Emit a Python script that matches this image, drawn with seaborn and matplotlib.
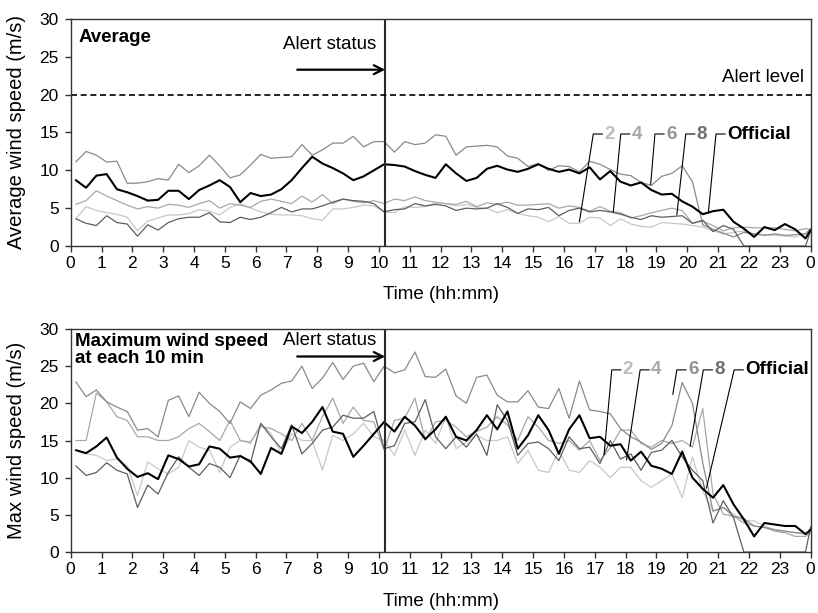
import numpy as np
import pandas as pd
import matplotlib
matplotlib.use("Agg")
import matplotlib.pyplot as plt
import seaborn as sns

# ---------------- data (20-min samples, hours 0..24) ----------------
hour_ticks = list(range(0, 25))
hour_labels = [str(h) for h in range(24)] + ["0"]

series_names = ["2", "4", "6", "8", "Official"]

avg_2 = [3.6, 5.2, 4.7, 4.4, 4.2, 3.8, 2.0, 3.3, 3.7, 4.1, 4.1, 4.3, 4.8, 4.6, 4.1,
         5.1, 5.6, 5.0, 4.5, 4.2, 4.1, 4.1, 4.0, 3.6, 3.4, 4.9, 4.9, 5.1, 5.4, 5.3,
         4.5, 4.4, 5.2, 5.1, 5.2, 5.7, 5.6, 5.3, 5.5, 5.1, 5.0, 4.4, 4.8, 4.3, 4.0,
         3.8, 3.2, 3.9, 3.0, 3.0, 3.8, 3.7, 2.7, 3.6, 2.9, 2.6, 2.5, 3.1, 3.0, 2.9,
         2.7, 2.5, 2.0, 1.6, 1.8, 2.0, 1.6, 1.5, 1.4, 1.3, 1.2, 1.6, 1.8]
avg_4 = [5.5, 6.0, 7.3, 6.6, 6.0, 5.4, 4.9, 5.2, 5.0, 5.5, 5.4, 5.1, 5.6, 6.0, 5.0,
         5.6, 5.4, 5.1, 5.9, 6.2, 5.9, 5.6, 6.6, 5.8, 6.8, 5.6, 6.2, 5.9, 5.7, 6.0,
         5.6, 6.2, 6.0, 6.5, 6.0, 5.8, 5.6, 5.5, 5.9, 5.2, 5.7, 5.5, 5.8, 5.4, 5.4,
         5.5, 5.6, 5.0, 5.3, 5.1, 4.6, 5.2, 4.6, 4.4, 3.7, 4.0, 4.4, 4.7, 5.0, 4.7,
         3.0, 3.3, 2.7, 2.0, 2.4, 2.5, 2.4, 2.4, 2.4, 2.2, 2.0, 2.3, 2.2]
avg_6 = [11.1, 12.5, 12.0, 11.1, 11.2, 8.3, 8.3, 8.5, 8.9, 8.7, 10.8, 9.7, 10.6, 12.0, 10.6,
         9.0, 9.4, 10.7, 12.1, 11.6, 11.7, 11.8, 13.4, 12.0, 12.7, 13.6, 13.6, 14.5, 13.1, 13.8,
         13.8, 12.4, 13.8, 13.4, 13.6, 14.7, 14.5, 12.0, 13.1, 13.2, 13.3, 13.1, 11.9, 11.6, 10.5,
         10.9, 10.0, 10.6, 10.5, 9.8, 11.2, 10.8, 10.1, 9.5, 9.3, 8.4, 8.0, 9.2, 9.6, 10.6,
         8.5, 2.8, 2.2, 1.7, 1.2, 1.8, 1.6, 1.4, 1.6, 1.4, 1.5, 1.6, 2.3]
avg_8 = [3.6, 3.0, 2.7, 4.0, 3.1, 2.9, 1.3, 2.8, 2.1, 3.1, 3.6, 3.8, 3.8, 4.4, 3.2,
         3.1, 3.8, 3.5, 3.8, 4.4, 5.1, 4.5, 4.9, 4.9, 5.3, 5.8, 6.2, 6.0, 5.9, 5.6,
         4.5, 4.8, 4.9, 5.6, 5.3, 5.5, 5.3, 4.7, 5.0, 4.9, 5.0, 5.6, 5.1, 4.3, 4.9,
         4.8, 5.1, 4.0, 4.7, 5.0, 4.5, 4.7, 4.5, 4.2, 3.8, 3.5, 4.0, 3.8, 3.9, 4.0,
         3.0, 3.4, 1.9, 2.7, 2.2, 0.0, 0.0, 0.0, 0.0, 0.0, 0.0, 0.0, 2.0]
avg_off = [8.7, 7.7, 9.3, 9.5, 7.5, 7.1, 6.6, 6.0, 6.1, 7.3, 7.3, 6.2, 7.4, 8.0, 8.7,
           7.8, 5.8, 7.0, 6.6, 6.8, 7.5, 8.7, 10.3, 11.8, 10.9, 10.3, 9.6, 8.7, 9.2, 10.0,
           10.8, 10.7, 10.5, 9.9, 9.4, 9.0, 10.8, 9.6, 8.6, 9.0, 10.2, 10.6, 10.1, 9.8, 10.2,
           10.8, 10.2, 9.8, 10.1, 9.6, 10.4, 8.8, 9.9, 8.5, 8.0, 8.4, 7.4, 6.8, 6.9, 5.9,
           5.2, 4.2, 4.6, 4.8, 3.2, 2.3, 1.2, 2.5, 2.1, 2.9, 2.2, 1.0, 2.1]

max_2 = [13.7, 13.2, 13.0, 12.3, 12.5, 11.6, 7.6, 12.1, 11.2, 10.5, 11.4, 15.0, 14.1, 13.7, 10.7,
         14.1, 15.0, 14.6, 17.3, 15.9, 13.2, 15.9, 15.0, 15.0, 11.0, 15.7, 15.0, 15.9, 17.3, 15.5,
         15.0, 13.0, 16.4, 13.0, 16.4, 14.6, 18.2, 13.9, 14.8, 15.7, 15.0, 15.0, 15.5, 11.9, 13.7,
         11.0, 10.7, 13.7, 11.0, 10.7, 12.3, 11.4, 10.0, 11.4, 11.4, 9.6, 8.7, 9.6, 10.5, 7.3,
         12.8, 8.2, 5.5, 6.0, 5.1, 4.2, 4.2, 3.5, 3.0, 2.8, 2.6, 2.4, 2.6]
max_4 = [15.0, 15.0, 21.4, 20.2, 18.2, 17.7, 15.5, 15.5, 15.0, 15.0, 15.5, 16.6, 17.3, 16.2, 15.0,
         17.7, 15.0, 14.8, 16.9, 16.6, 15.9, 15.0, 17.3, 15.0, 18.2, 20.7, 17.3, 19.5, 17.7, 17.5,
         13.7, 17.7, 18.0, 20.7, 15.0, 17.5, 17.7, 16.8, 15.5, 16.2, 16.8, 18.2, 17.1, 15.0, 18.2,
         16.8, 15.0, 14.6, 15.0, 13.7, 15.0, 12.3, 14.0, 16.4, 16.4, 14.6, 14.1, 15.0, 14.6, 15.0,
         14.1, 19.3, 7.8, 5.1, 4.8, 3.9, 3.5, 3.3, 2.8, 2.6, 2.1, 2.1, 2.6]
max_6 = [22.9, 20.9, 21.8, 20.2, 19.5, 18.9, 16.4, 16.6, 15.5, 20.4, 21.0, 18.2, 21.5, 20.0, 18.9,
         17.3, 20.2, 19.3, 21.1, 21.8, 22.7, 23.0, 25.0, 22.0, 23.4, 25.5, 23.2, 25.0, 25.4, 22.9,
         25.0, 24.1, 24.5, 26.9, 23.6, 23.5, 24.6, 21.0, 20.0, 23.5, 23.8, 21.1, 20.2, 20.2, 21.7,
         19.5, 19.3, 22.0, 18.0, 23.0, 19.1, 18.9, 18.6, 16.6, 15.5, 14.8, 13.8, 14.6, 17.0, 22.8,
         20.0, 12.0, 5.5, 6.0, 4.8, 4.5, 3.5, 3.3, 3.0, 2.8, 2.6, 2.5, 3.0]
max_8 = [11.6, 10.3, 10.7, 12.0, 11.0, 10.5, 6.0, 9.0, 7.8, 10.7, 12.8, 11.4, 10.3, 11.9, 11.4,
         10.0, 13.0, 12.0, 17.3, 15.5, 13.9, 17.1, 13.2, 14.6, 16.4, 16.8, 18.4, 18.0, 18.0, 18.9,
         13.9, 14.3, 17.3, 17.5, 20.5, 15.5, 13.9, 15.5, 14.1, 15.9, 13.0, 19.8, 17.7, 13.0, 14.6,
         14.8, 13.9, 12.3, 15.5, 13.9, 14.1, 11.9, 15.0, 12.5, 13.2, 11.0, 13.4, 13.7, 15.0, 12.8,
         11.0, 9.6, 3.9, 6.9, 4.6, 0.0, 0.0, 0.0, 0.0, 0.0, 0.0, 0.0, 3.4]
max_off = [13.7, 13.3, 14.2, 15.4, 12.7, 11.2, 10.1, 10.6, 9.8, 13.0, 12.5, 11.5, 11.8, 14.2, 13.9,
           12.7, 12.9, 12.2, 10.5, 14.0, 13.2, 16.9, 16.0, 17.5, 19.5, 16.2, 15.9, 12.8, 14.3, 15.9,
           17.5, 16.2, 18.2, 17.0, 15.2, 16.5, 18.2, 15.5, 15.0, 16.4, 18.4, 16.5, 18.9, 13.9, 15.7,
           18.4, 16.4, 13.2, 16.5, 18.4, 15.3, 15.5, 14.3, 14.5, 12.3, 13.5, 11.6, 11.2, 10.5, 13.5,
           10.0, 8.5, 7.3, 9.0, 6.4, 4.4, 2.1, 3.9, 3.7, 3.5, 3.5, 2.4, 3.0]

alert_time = 10.2
alert_level = 20

# ---------------- style ----------------
sns.set_theme(style="white")
plt.rcParams["font.family"] = ["Liberation Sans", "DejaVu Sans"]
plt.rcParams["text.color"] = "black"
plt.rcParams["axes.labelcolor"] = "black"
plt.rcParams["xtick.color"] = "black"
plt.rcParams["ytick.color"] = "black"

times = np.append(np.arange(72) / 3 + 1 / 6, 24.0)
colors = {"2": "#c8c8c8", "4": "#a8a8a8", "6": "#8a8a8a", "8": "#5e5e5e", "Official": "#000000"}
text_colors = {"2": "#bdbdbd", "4": "#a8a8a8", "6": "#939393", "8": "#6e6e6e", "Official": "#000000"}
widths = {"2": 0.9, "4": 0.9, "6": 0.9, "8": 0.9, "Official": 1.5}

fig = plt.figure(figsize=(8.18, 6.13), dpi=100)
ax1 = fig.add_axes([0.0864, 0.5987, 0.9046, 0.3703])
ax2 = fig.add_axes([0.0864, 0.0995, 0.9046, 0.3638])

panels = [
    (ax1, [avg_2, avg_4, avg_6, avg_8, avg_off], "Average wind speed (m/s)"),
    (ax2, [max_2, max_4, max_6, max_8, max_off], "Max wind speed (m/s)"),
]

for ax, vals_list, ylab in panels:
    for name, vals in zip(series_names, vals_list):
        df = pd.DataFrame({"t": times, "v": vals})
        sns.lineplot(data=df, x="t", y="v", ax=ax, color=colors[name],
                     linewidth=widths[name], legend=False)
    ax.set_xlim(0, 24)
    ax.set_ylim(0, 30)
    ax.set_xticks(hour_ticks)
    ax.set_xticklabels(hour_labels)
    ax.set_yticks([0, 5, 10, 15, 20, 25, 30])
    ax.tick_params(axis="x", direction="out", length=4, width=1, pad=3.5,
                   labelsize=12.5, colors="#333333", labelcolor="black")
    ax.tick_params(axis="y", direction="out", length=4, width=1, pad=4.5,
                   labelsize=12.5, colors="#333333", labelcolor="black")
    ax.tick_params(bottom=True, left=True)
    for sp in ax.spines.values():
        sp.set_visible(True)
        sp.set_color("#333333")
        sp.set_linewidth(1.0)
    ax.set_xlabel("Time (hh:mm)", fontsize=13.5)
    ax.set_ylabel(ylab, fontsize=14.5)
    ax.yaxis.set_label_coords(-0.06, 0.5)
    ax.axvline(alert_time, color="#2a2a2a", lw=1.5)
    ax.grid(False)

ax1.xaxis.set_label_coords(0.5, -0.175)
ax2.xaxis.set_label_coords(0.5, -0.185)

# top panel annotations
ax1.axhline(alert_level, color="black", lw=1.2, linestyle=(0, (3.6, 2.2)))
ax1.text(23.8, 22.3, "Alert level", ha="right", va="center", fontsize=13.5)
ax1.text(0.27, 27.5, "Average", ha="left", va="center", fontsize=13.5, fontweight="bold")
ax1.text(8.4, 26.6, "Alert status", ha="center", va="center", fontsize=13.5)
ax1.annotate("", xy=(alert_time, 23.3), xytext=(7.35, 23.3),
             arrowprops=dict(arrowstyle="->", color="black", lw=1.6,
                             shrinkA=0, shrinkB=0, mutation_scale=16))

ax2.text(0.14, 29.5, "Maximum wind speed\nat each 10 min", ha="left", va="top",
         fontsize=13.5, fontweight="bold", linespacing=1.05)
ax2.text(8.4, 28.4, "Alert status", ha="center", va="center", fontsize=13.5)
ax2.annotate("", xy=(alert_time, 26.3), xytext=(7.35, 26.3),
             arrowprops=dict(arrowstyle="->", color="black", lw=1.6,
                             shrinkA=0, shrinkB=0, mutation_scale=16))

# leader-line labels
top_corner = {"2": 16.95, "4": 17.84, "6": 18.95, "8": 19.95, "Official": 20.93}
top_end = {"2": (16.5, 3.2), "4": (17.6, 4.5), "6": (18.81, 8.1), "8": (19.66, 4.1), "Official": (20.68, 4.3)}
bot_corner = {"2": 17.55, "4": 18.47, "6": 19.66, "8": 20.52, "Official": 21.52}
bot_end = {"2": (17.3, 13.1), "4": (18.03, 12.4), "6": (19.53, 21.2), "8": (20.09, 14.2), "Official": (20.62, 8.6)}

for ax, corner, end, ly in [(ax1, top_corner, top_end, 14.8), (ax2, bot_corner, bot_end, 24.5)]:
    for name in series_names:
        cx = corner[name]
        ex, ey = end[name]
        ax.plot([ex, cx, cx + 0.3], [ey, ly, ly], color="black", lw=0.8)
        ax.text(cx + 0.36, ly, name, ha="left", va="center", fontsize=13.5,
                fontweight="bold", color=text_colors[name])

fig.savefig("out.png", dpi=100)
